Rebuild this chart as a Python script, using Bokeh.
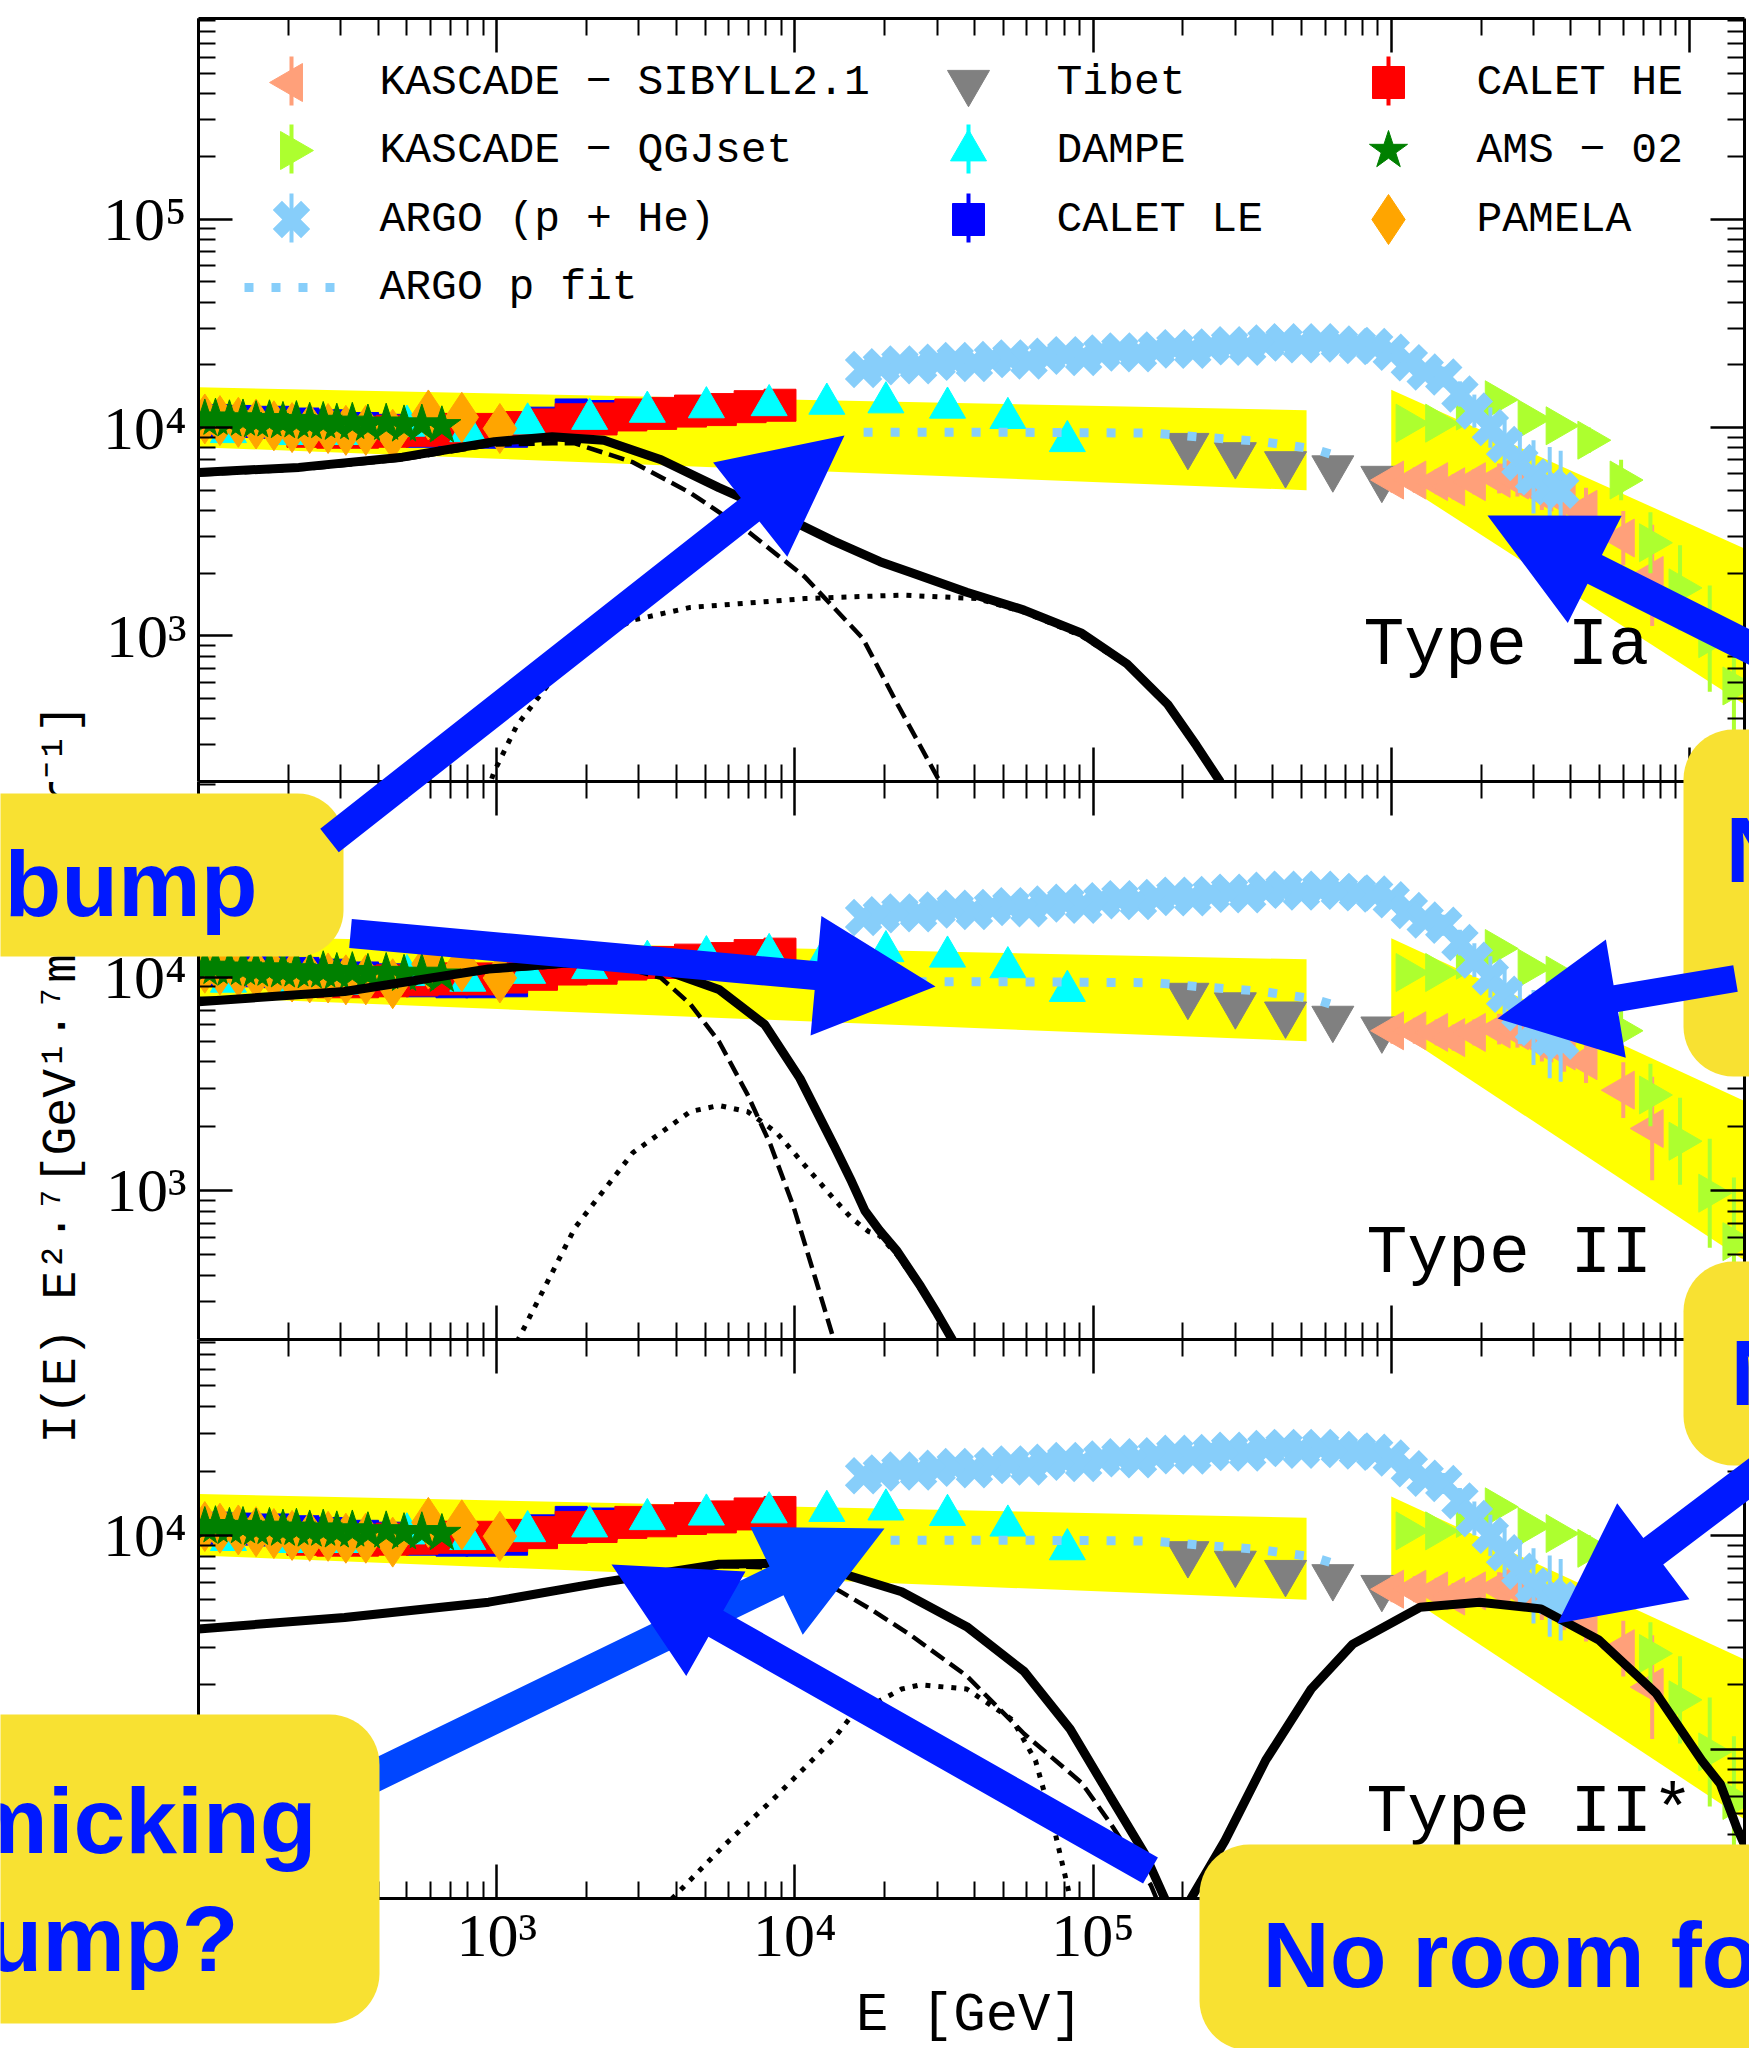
import numpy as np
from bokeh.plotting import figure
from bokeh.models import Range1d, LogAxis, FixedTicker, GridBox, CustomLabelingPolicy
from bokeh.core.properties import value
from bokeh.embed import file_html
from bokeh.resources import INLINE

# ------------------------------------------------------------------
# Proton spectrum data, I(E) * E^2.7  [GeV^1.7 m^-2 s^-1 sr^-1], E in GeV
# ------------------------------------------------------------------
ams_E = [105, 114, 127, 141, 156, 173, 192, 213, 236, 262, 291, 328, 370, 426, 489, 561, 655]
ams_I = [1.10e4, 1.11e4, 1.09e4, 1.10e4, 1.08e4, 1.09e4, 1.07e4, 1.08e4, 1.06e4, 1.07e4,
         1.05e4, 1.06e4, 1.04e4, 1.05e4, 1.03e4, 1.04e4, 1.02e4]

pamela_E = [105, 118, 136, 156, 179, 206, 236, 272, 312, 364, 448, 590, 764, 1025]
pamela_I = [1.10e4, 1.08e4, 1.06e4, 1.04e4, 1.02e4, 1.00e4, 9.9e3, 9.9e3, 9.7e3, 9.7e3,
            9.3e3, 1.15e4, 1.12e4, 9.9e3]

calet_le_E = [112, 141, 178, 224, 282, 355, 447, 562, 708, 891, 1122, 1413, 1778, 2239]
calet_le_I = [1.08e4, 1.07e4, 1.06e4, 1.04e4, 1.02e4, 9.9e3, 9.7e3, 9.6e3, 9.5e3, 9.5e3,
              9.6e3, 1.05e4, 1.15e4, 1.13e4]

calet_he_E = [224, 282, 355, 447, 562, 708, 891, 1122, 1413, 1778, 2239, 2818, 3548, 4467,
              5623, 7079, 8913]
calet_he_I = [9.6e3, 9.5e3, 9.5e3, 9.6e3, 9.7e3, 9.8e3, 9.8e3, 1.00e4, 1.03e4, 1.09e4,
              1.10e4, 1.15e4, 1.17e4, 1.20e4, 1.22e4, 1.26e4, 1.28e4]

dampe_E = [126, 200, 316, 500, 800, 1270, 2050, 3200, 5050, 8200, 1.28e4, 2.02e4, 3.25e4,
           5.18e4, 8.2e4]
dampe_I = [9.5e3, 9.3e3, 9.3e3, 1.02e4, 9.6e3, 1.045e4, 1.10e4, 1.19e4, 1.25e4, 1.28e4,
           1.30e4, 1.32e4, 1.245e4, 1.11e4, 8.6e3]

tibet_E = [2.08e5, 3.0e5, 4.42e5, 6.37e5, 9.3e5]
tibet_I = [8.2e3, 7.4e3, 6.7e3, 6.4e3, 5.7e3]

argo_E = [1.7e4, 1.95e4, 2.25e4, 2.6e4, 3.0e4, 3.45e4, 4.0e4, 4.6e4, 5.3e4, 6.1e4, 7.0e4,
          8.1e4, 9.3e4, 1.07e5, 1.23e5, 1.42e5, 1.63e5, 1.88e5, 2.16e5, 2.49e5, 2.87e5,
          3.3e5, 3.8e5, 4.37e5, 5.0e5, 5.8e5, 6.7e5, 7.7e5, 8.8e5, 1.0e6, 1.15e6, 1.3e6,
          1.5e6, 1.7e6, 1.9e6, 2.15e6, 2.4e6, 2.7e6, 3.0e6, 3.4e6, 3.7e6]
argo_I = [1.90e4, 1.96e4, 2.02e4, 1.98e4, 2.06e4, 2.10e4, 2.03e4, 2.12e4, 2.16e4, 2.09e4,
          2.20e4, 2.24e4, 2.17e4, 2.28e4, 2.33e4, 2.26e4, 2.36e4, 2.42e4, 2.35e4, 2.44e4,
          2.50e4, 2.43e4, 2.55e4, 2.58e4, 2.50e4, 2.58e4, 2.52e4, 2.48e4, 2.45e4, 2.30e4,
          2.05e4, 1.85e4, 1.75e4, 1.45e4, 1.20e4, 1.00e4, 8.3e3, 6.8e3, 5.8e3, 5.2e3, 5.0e3]
argo_err = [1.04, 1.04, 1.04, 1.04, 1.04, 1.04, 1.04, 1.04, 1.04, 1.04, 1.04, 1.04, 1.04,
            1.04, 1.04, 1.04, 1.04, 1.04, 1.04, 1.04, 1.04, 1.04, 1.04, 1.04, 1.04, 1.04,
            1.04, 1.04, 1.05, 1.06, 1.08, 1.10, 1.12, 1.15, 1.20, 1.25, 1.30, 1.40, 1.50,
            1.55, 1.55]

argo_fit_E = [1.7e4, 5.0e4, 1.0e5, 1.6e5, 2.3e5, 3.6e5, 5.5e5, 6.8e5]
argo_fit_I = [9.5e3, 9.5e3, 9.45e3, 9.4e3, 9.0e3, 8.6e3, 7.9e3, 7.2e3]

sibyll_E = [1.01e6, 1.2e6, 1.42e6, 1.62e6, 1.9e6, 2.3e6, 2.65e6, 3.2e6, 3.8e6, 4.5e6,
            6.0e6, 7.5e6]
sibyll_I = [5.6e3, 5.6e3, 5.5e3, 5.2e3, 5.5e3, 5.7e3, 5.6e3, 4.9e3, 4.5e3, 4.05e3,
            2.95e3, 1.95e3]
sibyll_err = [1.15, 1.15, 1.15, 1.15, 1.15, 1.18, 1.20, 1.22, 1.25, 1.27, 1.35, 1.75]

qgsjet_E = [1.13e6, 1.42e6, 1.8e6, 2.25e6, 2.9e6, 3.6e6, 4.6e6, 5.9e6, 7.4e6, 9.3e6,
            1.17e7, 1.41e7]
qgsjet_I = [1.05e4, 1.05e4, 1.2e4, 1.36e4, 1.1e4, 1.02e4, 8.7e3, 5.6e3, 2.8e3, 1.7e3,
            970, 575]
qgsjet_err = [1.08, 1.08, 1.10, 1.10, 1.12, 1.12, 1.15, 1.25, 1.40, 1.60, 1.80, 2.00]

# fit uncertainty bands (direct and air-shower regimes)
band_low_E = [100, 5.2e5]
band_low_lo = [8.05e3, 5.0e3]
band_low_hi = [1.56e4, 1.21e4]
band_knee_E = [1.0e6, 1.6e7]
band_knee_lo = [5.8e3, 450]
band_knee_hi = [1.52e4, 2.55e3]

# ------------------------------------------------------------------
# Model curves: total (solid), component 1 (dashed), component 2 (dotted)
# ------------------------------------------------------------------
ia_total_E = [100, 217, 483, 982, 1535, 2288, 3560, 5560, 9060, 1.35e4, 1.93e4, 2.41e4,
              3.77e4, 5.87e4, 9.16e4, 1.30e5, 1.78e5, 2.22e5, 2.66e5, 2.9e5]
ia_total_I = [6.08e3, 6.44e3, 7.21e3, 8.55e3, 9.04e3, 8.69e3, 7.01e3, 5.15e3, 3.77e3,
              2.85e3, 2.27e3, 2.03e3, 1.62e3, 1.33e3, 1.03e3, 734, 469, 298, 201, 150]
ia_dash_E = [100, 217, 483, 982, 1535, 1830, 2860, 4460, 6940, 1.08e4, 1.69e4, 2.21e4,
             3.02e4, 3.3e4]
ia_dash_I = [5.95e3, 6.3e3, 7.05e3, 8.3e3, 8.4e3, 8.4e3, 6.82e3, 4.86e3, 3.18e3, 1.92e3,
             973, 469, 207, 165]
ia_dot_E = [930, 982, 1170, 1470, 2000, 2860, 4460, 1.08e4, 2.28e4, 4.1e4, 5.87e4, 9.16e4,
            1.30e5, 1.78e5, 2.22e5, 2.66e5, 2.9e5]
ia_dot_I = [180, 224, 373, 570, 920, 1.19e3, 1.37e3, 1.51e3, 1.57e3, 1.51e3, 1.3e3, 1.0e3,
            720, 460, 292, 197, 148]

ii_total_E = [100, 309, 940, 1830, 3560, 5560, 7930, 1.04e4, 1.35e4, 1.55e4, 1.72e4,
              1.92e4, 2.2e4, 2.64e4, 3.0e4, 3.37e4, 3.7e4]
ii_total_I = [7.66e3, 8.55e3, 1.09e4, 1.17e4, 1.09e4, 8.75e3, 5.98e3, 3.35e3, 1.63e3,
              1.1e3, 800, 650, 520, 355, 265, 200, 160]
ii_dash_E = [100, 309, 940, 1830, 2860, 3560, 4460, 5560, 6940, 8280, 9900, 1.18e4,
             1.35e4, 1.45e4]
ii_dash_I = [7.55e3, 8.45e3, 1.07e4, 1.14e4, 1.08e4, 9.9e3, 7.47e3, 5.0e3, 2.81e3, 1.64e3,
             838, 374, 200, 140]
ii_dot_E = [1170, 1830, 2860, 4460, 5560, 6940, 8670, 1.08e4, 1.35e4, 1.55e4, 1.77e4,
            1.92e4, 2.2e4, 2.64e4, 3.0e4, 3.37e4, 3.7e4]
ii_dot_I = [195, 668, 1.5e3, 2.34e3, 2.5e3, 2.34e3, 1.87e3, 1.31e3, 914, 740, 640, 615,
            500, 345, 258, 195, 156]

iis_total_lo_E = [100, 309, 940, 2290, 5560, 8670, 1.35e4, 2.28e4, 3.77e4, 5.87e4, 8.38e4,
                  1.14e5, 1.49e5, 1.74e5, 1.85e5]
iis_total_lo_I = [3.65e3, 4.13e3, 4.87e3, 6.04e3, 7.33e3, 7.4e3, 6.81e3, 5.45e3, 3.74e3,
                  2.31e3, 1.24e3, 603, 324, 200, 160]
iis_total_hi_E = [2.0e5, 2.13e5, 2.77e5, 3.79e5, 5.39e5, 7.43e5, 1.25e6, 1.98e6, 3.18e6,
                  4.97e6, 7.74e6, 1.1e7, 1.27e7, 1.44e7, 1.63e7]
iis_total_hi_I = [150, 200, 373, 885, 1.91e3, 3.1e3, 4.61e3, 4.87e3, 4.53e3, 3.24e3,
                  1.82e3, 885, 686, 431, 294]
iis_dash_E = [100, 309, 940, 2290, 5560, 8670, 1.2e4, 1.41e4, 1.8e4, 2.42e4, 3.77e4,
              5.87e4, 9.16e4, 1.14e5, 1.56e5, 1.7e5]
iis_dash_I = [3.6e3, 4.08e3, 4.8e3, 5.95e3, 7.2e3, 7.05e3, 6.2e3, 5.5e3, 4.5e3, 3.45e3,
              2.2e3, 1.18e3, 695, 452, 232, 175]
iis_dot_E = [3600, 5810, 8670, 1.35e4, 1.55e4, 2.28e4, 2.64e4, 3.77e4, 5.37e4, 6.41e4,
             7.33e4, 8.19e4, 8.6e4]
iis_dot_I = [180, 356, 603, 1.12e3, 1.43e3, 1.91e3, 2.0e3, 1.91e3, 1.37e3, 885, 451, 232,
             170]

panel_names = ["Type Ia", "Type II", "Type II*"]
legend_labels = ["KASCADE − SIBYLL2.1", "KASCADE − QGJset", "ARGO (p + He)", "ARGO p fit",
                 "Tibet", "DAMPE", "CALET LE", "CALET HE", "AMS − 02", "PAMELA"]

# ------------------------------------------------------------------
# Page layout (pixels)
# ------------------------------------------------------------------
PAGE_W, PAGE_H = 1749, 2048
FRAME_L, FRAME_R = 198, 1744
CANVAS_H = [781, 558, 709]
BORDER_TOP = [18, 0, 0]
BORDER_BOTTOM = [0, 0, 150]
X_RANGE = (100, 1.53e7)
Y_RANGES = [(200, 9.2e5), (200, 8.25e4), (200, 8.25e4)]
# the text anchor sits on the descent line; lift by this fraction of the font size
DESCENT = 0.31

SUP = str.maketrans("0123456789", "⁰¹²³⁴⁵⁶⁷⁸⁹")


def decade(k):
    return "10" + str(k).translate(SUP)


X_MAJOR = [10.0 ** k for k in range(2, 8)]
X_MINOR = [m * 10.0 ** k for k in range(1, 8) for m in range(2, 10)]
Y_MAJOR = [10.0 ** k for k in range(2, 7)]
Y_MINOR = [m * 10.0 ** k for k in range(1, 7) for m in range(2, 10)]

STYLE = {
    "sibyll": dict(marker="triangle", size=38, angle=90, color="#FFA07A"),
    "qgsjet": dict(marker="triangle", size=38, angle=-90, color="#ADFF2F"),
    "argo": dict(marker="x", size=40, angle=0, color="#87CEFA"),
    "tibet": dict(marker="inverted_triangle", size=42, angle=0, color="#808080"),
    "dampe": dict(marker="triangle", size=36, angle=0, color="#00FFFF"),
    "calet_le": dict(marker="square", size=32, angle=0, color="#0000FF"),
    "calet_he": dict(marker="square", size=32, angle=0, color="#FF0000"),
    "ams": dict(marker="star", size=40, angle=0, color="#008000"),
    "pamela": dict(marker="diamond", size=50, angle=0, color="#FFA500"),
}
FIT_COLOR = "#87CEFA"
BAND_COLOR = "#FFFF00"
ARROW_BLUE = "#0019FF"
ARROW_LIGHT = "#0046FF"
NOTE_YELLOW = "#F8E132"
NOTE_TEXT = "#0019FF"

# tick labels are drawn only on the left and on the bottom of the last panel
NO_LABELS = CustomLabelingPolicy(code="""
for (const i of indices) { indices.unset(i) }
return indices
""")


def markers(p, key, x, y):
    s = STYLE[key]
    if s["marker"] == "x":
        return p.scatter(x, y, marker="x", size=s["size"], line_color=s["color"], line_width=13)
    return p.scatter(x, y, marker=s["marker"], size=s["size"], angle=s["angle"],
                     angle_units="deg", fill_color=s["color"], line_color=s["color"],
                     line_width=1)


def errbars(p, key, x, y, fac):
    lo = [v / f for v, f in zip(y, fac)]
    hi = [v * f for v, f in zip(y, fac)]
    p.segment(x0=x, y0=lo, x1=x, y1=hi, line_color=STYLE[key]["color"], line_width=4)


def style_axis(ax, show_labels):
    ax.axis_line_width = 3
    ax.axis_line_color = "black"
    ax.major_tick_in = 34
    ax.major_tick_out = 0
    ax.minor_tick_in = 17
    ax.minor_tick_out = 0
    ax.major_tick_line_width = 2.5
    ax.minor_tick_line_width = 2
    ax.major_tick_line_color = "black"
    ax.minor_tick_line_color = "black"
    if show_labels:
        ax.major_label_text_font = "Liberation Serif"
        ax.major_label_text_font_size = "62px"
        ax.major_label_text_color = "black"
        ax.major_label_standoff = 2
    else:
        ax.major_label_text_font_size = "0px"
        ax.major_label_standoff = 0
        ax.major_label_policy = NO_LABELS


def build_panel(i):
    p = figure(width=PAGE_W, height=CANVAS_H[i], x_axis_type="log", y_axis_type="log",
               x_range=Range1d(*X_RANGE), y_range=Range1d(*Y_RANGES[i]),
               output_backend="svg", toolbar_location=None,
               min_border_left=FRAME_L, min_border_right=PAGE_W - FRAME_R,
               min_border_top=BORDER_TOP[i], min_border_bottom=BORDER_BOTTOM[i])
    p.add_layout(LogAxis(), "above")
    p.add_layout(LogAxis(), "right")
    p.grid.grid_line_color = None
    p.outline_line_color = None
    p.background_fill_color = "white"
    p.border_fill_color = "white"

    for ax in p.xaxis:
        ax.ticker = FixedTicker(ticks=X_MAJOR, minor_ticks=X_MINOR)
        ax.major_label_overrides = {v: decade(k) for k, v in zip(range(2, 8), X_MAJOR)}
    for ax in p.yaxis:
        ax.ticker = FixedTicker(ticks=Y_MAJOR, minor_ticks=Y_MINOR)
        ax.major_label_overrides = {v: decade(k) for k, v in zip(range(2, 7), Y_MAJOR)}
    style_axis(p.left[0], True)
    p.left[0].major_label_standoff = 12
    style_axis(p.right[0], False)
    style_axis(p.above[0], False)
    style_axis(p.below[0], i == 2)

    # uncertainty bands
    p.varea(x=band_low_E, y1=band_low_lo, y2=band_low_hi, fill_color=BAND_COLOR)
    p.varea(x=band_knee_E, y1=band_knee_lo, y2=band_knee_hi, fill_color=BAND_COLOR)

    # direct measurements
    markers(p, "calet_le", calet_le_E, calet_le_I)
    markers(p, "calet_he", calet_he_E, calet_he_I)
    markers(p, "dampe", dampe_E, dampe_I)
    markers(p, "pamela", pamela_E, pamela_I)
    markers(p, "ams", ams_E, ams_I)
    markers(p, "tibet", tibet_E, tibet_I)

    # air-shower measurements
    errbars(p, "sibyll", sibyll_E, sibyll_I, sibyll_err)
    markers(p, "sibyll", sibyll_E, sibyll_I)
    errbars(p, "qgsjet", qgsjet_E, qgsjet_I, qgsjet_err)
    markers(p, "qgsjet", qgsjet_E, qgsjet_I)
    errbars(p, "argo", argo_E, argo_I, argo_err)
    markers(p, "argo", argo_E, argo_I)
    p.line(argo_fit_E, argo_fit_I, line_color=FIT_COLOR, line_width=9, line_dash="9 18")

    # model curves
    if i == 0:
        p.line(ia_dot_E, ia_dot_I, line_color="black", line_width=5, line_dash="5 8")
        p.line(ia_dash_E, ia_dash_I, line_color="black", line_width=4.5, line_dash="16 7")
        p.line(ia_total_E, ia_total_I, line_color="black", line_width=9)
    elif i == 1:
        p.line(ii_dot_E, ii_dot_I, line_color="black", line_width=5, line_dash="5 8")
        p.line(ii_dash_E, ii_dash_I, line_color="black", line_width=4.5, line_dash="16 7")
        p.line(ii_total_E, ii_total_I, line_color="black", line_width=9)
    else:
        p.line(iis_dot_E, iis_dot_I, line_color="black", line_width=5, line_dash="5 8")
        p.line(iis_dash_E, iis_dash_I, line_color="black", line_width=4.5, line_dash="16 7")
        p.line(iis_total_lo_E, iis_total_lo_I, line_color="black", line_width=9)
        p.line(iis_total_hi_E, iis_total_hi_I, line_color="black", line_width=9)
    return p


panels = [build_panel(i) for i in range(3)]

# ------------------------------------------------------------------
# Page overlay: legend, labels, notes and arrows (page pixel coordinates)
# ------------------------------------------------------------------
ov = figure(width=PAGE_W, height=PAGE_H, x_range=Range1d(0, PAGE_W),
            y_range=Range1d(0, PAGE_H), output_backend="svg", toolbar_location=None,
            min_border=0, x_axis_location=None, y_axis_location=None)
ov.frame_align = False
ov.grid.grid_line_color = None
ov.outline_line_color = None
ov.background_fill_color = None
ov.border_fill_color = None


def Y(py):
    return PAGE_H - py


def base(py, size):
    """Overlay y for a text whose baseline should sit at page row py."""
    return Y(py - DESCENT * size)


def arrow(tail, tip, shaft, head_len=120, head_w=120):
    t = np.asarray(tail, float)
    h = np.asarray(tip, float)
    u = (h - t) / np.hypot(*(h - t))
    n = np.array([-u[1], u[0]])
    b = h - u * head_len
    pts = [t + n * shaft / 2, b + n * shaft / 2, b + n * head_w / 2, h,
           b - n * head_w / 2, b - n * shaft / 2, t - n * shaft / 2]
    return [q[0] for q in pts], [Y(q[1]) for q in pts]


def rounded_box(l, t, r, b, rad, n=14):
    xs, ys = [], []
    for cx, cy, a0, a1 in [(r - rad, t + rad, -90, 0), (r - rad, b - rad, 0, 90),
                           (l + rad, b - rad, 90, 180), (l + rad, t + rad, 180, 270)]:
        for a in np.radians(np.linspace(a0, a1, n)):
            xs.append(cx + rad * np.cos(a))
            ys.append(Y(cy + rad * np.sin(a)))
    return xs, ys


# legend
LEG_MARK_X = [291, 968, 1388]
LEG_TEXT_X = [379, 1056, 1476]
LEG_ROW_Y = [82, 150, 219, 287]
legend_keys = ["sibyll", "qgsjet", "argo", "argo_fit", "tibet", "dampe", "calet_le",
               "calet_he", "ams", "pamela"]
legend_cells = [(0, 0), (0, 1), (0, 2), (0, 3), (1, 0), (1, 1), (1, 2), (2, 0), (2, 1), (2, 2)]
with_bar = {"sibyll", "qgsjet", "argo", "dampe", "calet_le", "calet_he"}
for key, (col, row) in zip(legend_keys, legend_cells):
    mx, my = LEG_MARK_X[col], LEG_ROW_Y[row]
    if key == "argo_fit":
        ov.line([244, 337], [Y(my), Y(my)], line_color=FIT_COLOR, line_width=9,
                line_dash="9 18")
        continue
    if key in with_bar:
        ov.segment(x0=[mx], y0=[Y(my - 26)], x1=[mx], y1=[Y(my + 23)],
                   line_color=STYLE[key]["color"], line_width=4)
    markers(ov, key, [mx], [Y(my)])
ov.text(x=[LEG_TEXT_X[c] for c, r in legend_cells], y=[Y(LEG_ROW_Y[r]) for c, r in legend_cells],
        text=legend_labels, text_font=value("Liberation Mono"), text_font_size=value("43px"),
        text_align="left", text_baseline="middle", text_color="black")

# panel names
NAME_SIZE = 68
ov.text(x=[1363, 1366, 1366], y=[base(666, NAME_SIZE), base(1274, NAME_SIZE), base(1833, NAME_SIZE)],
        text=panel_names, text_font=value("Liberation Mono"),
        text_font_size=value(f"{NAME_SIZE}px"), text_align="left",
        text_baseline="alphabetic", text_color="black")

# axis titles
YT_SIZE = 48
ov.text(x=[76 - DESCENT * YT_SIZE], y=[Y(1443)], text=["I(E) E²·⁷[GeV¹·⁷m⁻²s⁻¹sr⁻¹]"],
        angle=90, angle_units="deg", text_font=value("Liberation Mono"),
        text_font_size=value(f"{YT_SIZE}px"), text_align="left", text_baseline="alphabetic",
        text_color="black")
XT_SIZE = 54
ov.text(x=[969], y=[base(2032, XT_SIZE)], text=["E [GeV]"], text_font=value("Liberation Mono"),
        text_font_size=value(f"{XT_SIZE}px"), text_align="center", text_baseline="alphabetic",
        text_color="black")

# arrow passing beneath the lower-left note
ax_, ay_ = arrow((307, 1808), (884, 1528), 32)
ov.patch(ax_, ay_, fill_color=ARROW_LIGHT, line_color=None)

# notes
notes = [(-80, 793, 343, 956, 46), (-80, 1714, 379, 2023, 50), (1199, 1844, 2100, 2050, 50),
         (1683, 729, 2100, 1076, 50), (1683, 1261, 2100, 1465, 50)]
for l, t, r, b, rad in notes:
    bx, by = rounded_box(l, t, r, b, rad)
    ov.patch(bx, by, fill_color=NOTE_YELLOW, line_color=None)

NOTE_SIZE = 93
note_font = dict(text_font=value("Liberation Sans"), text_font_style="bold",
                 text_font_size=value(f"{NOTE_SIZE}px"), text_color=NOTE_TEXT,
                 text_baseline="alphabetic")
ov.text(x=[4, 1262, 1725, 1730],
        y=[base(912, NOTE_SIZE), base(1983, NOTE_SIZE), base(878, NOTE_SIZE),
           base(1401, NOTE_SIZE)],
        text=["bump", "No room fo", "N", "N"], text_align="left", **note_font)
ov.text(x=[316, 238], y=[base(1849, NOTE_SIZE), base(1967, NOTE_SIZE)],
        text=["micking", "ump?"], text_align="right", **note_font)

# arrows on top
for tail, tip, w in [((329, 840), (844, 435), 30), ((350, 933), (935, 986), 29),
                     ((1889, 717), (1487, 515), 32), ((1735, 978), (1497, 1018), 27),
                     ((1956, 1322), (1557, 1623), 33), ((1150, 1870), (611, 1564), 30)]:
    ax_, ay_ = arrow(tail, tip, w)
    ov.patch(ax_, ay_, fill_color=ARROW_BLUE, line_color=None)

layout = GridBox(children=[(panels[0], 0, 0), (panels[1], 1, 0), (panels[2], 2, 0),
                           (ov, 0, 0, 3, 1)], spacing=0)

open("out.html", "w").write(file_html(layout, INLINE))
